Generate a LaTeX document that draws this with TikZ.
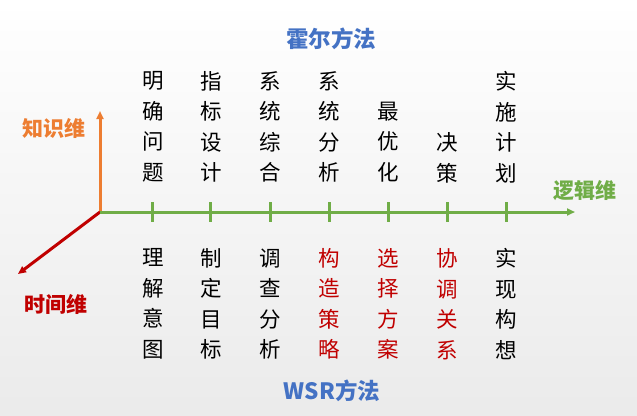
\documentclass[tikz,border=0pt]{standalone}
\usepackage{fontspec}
\setmainfont{Noto Sans CJK SC}
\newfontfamily\cjk{Noto Sans CJK SC}
\usetikzlibrary{arrows.meta}
\definecolor{axorange}{HTML}{ED7D31}
\definecolor{axgreen}{HTML}{70AD47}
\definecolor{axred}{HTML}{C00000}
\definecolor{tblue}{HTML}{4472C4}
\begin{document}
\begin{tikzpicture}[x=1pt,y=-1pt,
  col/.style={font=\cjk\fontsize{21.5}{30.5}\selectfont, align=center, inner sep=0pt, anchor=center},
  lbl/.style={font=\cjk\bfseries\fontsize{21}{24}\selectfont, inner sep=0pt},
  ttl/.style={font=\cjk\bfseries\fontsize{22.5}{26}\selectfont, text=tblue, inner sep=0pt},
  axis/.style={line width=3pt, -{Stealth[length=8pt,width=7pt,inset=0pt]}},
  tick/.style={line width=3pt, axgreen}]
\shade[top color=white, bottom color=black!8] (0,0) rectangle (637,415);
\useasboundingbox (0,0) rectangle (637,415);
\coordinate (O) at (100,212);
\coordinate (K) at (100,111);
\coordinate (T) at (18,274);
\coordinate (L) at (575,212);
\draw[axis, axorange] (O) -- (K);
\draw[axis, axred] (O) -- (T);
\draw[axis, axgreen] (O) -- (L);
\foreach \x/\n in {152/t1,210/t2,270/t3,329/t4,388/t5,447/t6,506/t7}{
  \coordinate (\n a) at (\x,202);
  \coordinate (\n b) at (\x,222);
  \draw[tick] (\n a) -- (\n b);
}
\node[ttl] (hall) at (331,39) {霍尔方法};
\node[ttl] (wsr) at (332,391) {WSR方法};
\node[lbl, text=axorange] (know) at (54,128) {知识维};
\node[lbl, text=axred] (time) at (56,304) {时间维};
\node[lbl, text=axgreen] (logic) at (585,191) {逻辑维};
% top columns
\node[col] (a1) at (153,127) {明\\确\\问\\题};
\node[col] (a2) at (211,127) {指\\标\\设\\计};
\node[col] (a3) at (270,127) {系\\统\\综\\合};
\node[col] (a4) at (329,127) {系\\统\\分\\析};
\node[col] (a5) at (388,142) {最\\优\\化};
\node[col] (a6) at (447,158) {决\\策};
\node[col] (a7) at (506,127) {实\\施\\计\\划};
% bottom columns
\node[col] (b1) at (153,304) {理\\解\\意\\图};
\node[col] (b2) at (211,304) {制\\定\\目\\标};
\node[col] (b3) at (270,304) {调\\查\\分\\析};
\node[col, text=axred] (b4) at (329,304) {构\\造\\策\\略};
\node[col, text=axred] (b5) at (388,304) {选\\择\\方\\案};
\node[col, text=axred] (b6) at (447,304) {协\\调\\关\\系};
\node[col] (b7) at (506,304) {实\\现\\构\\想};
\end{tikzpicture}
\end{document}
